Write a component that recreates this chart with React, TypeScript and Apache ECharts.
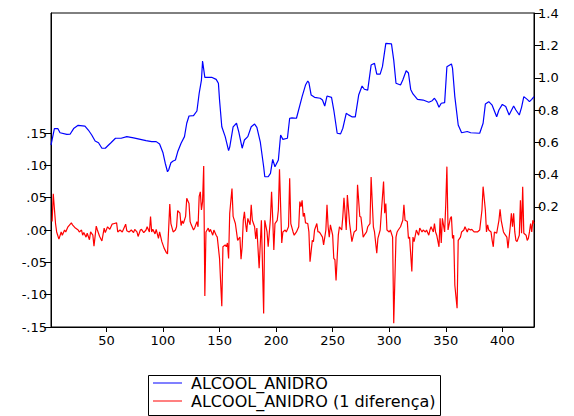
import React, { useEffect, useRef } from "react";
import * as echarts from "echarts";

// Tick labels
const xTicks = [50, 100, 150, 200, 250, 300, 350, 400];
const leftTicks = [-0.15, -0.1, -0.05, 0, 0.05, 0.1, 0.15];
const rightTicks = [0.2, 0.4, 0.6, 0.8, 1.0, 1.2, 1.4];

const seriesNames = ["ALCOOL_ANIDRO", "ALCOOL_ANIDRO (1 diferença)"];

// ALCOOL_ANIDRO (right axis): [observation, value]
const alcoolObs = [1,4,7,9,15,18,21,25,31,34,37,40,43,46,49,51,54,58,63,68,74,80,85,90,94,97,100,102,104,105,107,109,111,113,116,119,121,123,127,130,132,134,135,137,143,147,149,150,152,155,158,159,162,165,167,170,172,175,178,181,183,186,189,190,193,195,197,199,202,204,206,210,212,214,218,223,226,228,229,231,234,239,241,243,245,249,251,254,257,259,262,264,267,270,273,276,278,281,284,287,289,292,294,297,302,304,306,310,312,315,317,319,321,325,330,335,338,340,342,344,346,349,351,355,356,358,361,364,369,372,380,383,385,388,391,395,397,400,403,406,410,412,415,417,419,422,424,426,428];
const alcoolVal = [0.583,0.685,0.685,0.659,0.649,0.651,0.685,0.705,0.700,0.676,0.645,0.608,0.597,0.563,0.563,0.577,0.597,0.625,0.625,0.635,0.627,0.618,0.610,0.604,0.604,0.589,0.535,0.470,0.417,0.428,0.473,0.484,0.490,0.541,0.594,0.635,0.718,0.763,0.765,0.794,0.904,0.986,1.104,1.003,1.003,0.990,0.966,0.862,0.696,0.635,0.548,0.570,0.696,0.718,0.665,0.563,0.614,0.635,0.696,0.713,0.693,0.603,0.448,0.386,0.386,0.407,0.494,0.448,0.490,0.645,0.618,0.625,0.749,0.751,0.749,0.883,0.955,0.980,0.970,0.893,0.879,0.873,0.862,0.825,0.887,0.879,0.800,0.656,0.652,0.687,0.780,0.770,0.758,0.758,0.893,0.949,0.929,0.924,1.079,1.090,1.023,1.023,1.069,1.214,1.210,1.110,0.966,0.955,0.986,1.044,1.030,0.928,0.900,0.866,0.862,0.848,0.858,0.873,0.852,0.817,0.842,0.846,1.069,1.086,1.058,0.883,0.707,0.659,0.667,0.659,0.656,0.718,0.837,0.852,0.830,0.758,0.800,0.835,0.822,0.769,0.825,0.800,0.769,0.817,0.883,0.866,0.852,0.866,0.883];

// ALCOOL_ANIDRO (1 diferença) (left axis): [observation, value]
const difObs = [2,3,5,6,8,10,11,13,14,16,19,20,22,25,26,28,29,30,32,33,35,36,38,39,41,42,44,46,48,49,51,53,55,57,59,60,62,64,67,68,70,72,74,75,77,78,80,81,83,85,86,88,89,90,91,93,94,96,97,99,101,103,104,106,107,109,111,112,113,115,116,117,118,120,121,123,124,125,127,128,130,131,132,133,134,135,136,137,138,140,141,142,144,145,147,148,150,151,152,153,155,156,157,158,159,161,162,164,165,166,168,169,170,171,172,173,174,175,177,178,179,181,182,183,185,187,189,190,192,193,195,196,197,198,199,201,202,203,205,206,208,209,211,212,213,215,216,218,220,221,222,223,224,225,226,228,229,230,232,233,234,236,237,238,239,241,242,244,245,246,247,248,250,251,252,253,255,256,258,259,260,262,263,265,267,269,271,272,274,275,277,278,280,281,283,284,286,287,289,290,292,293,295,296,297,298,300,301,303,304,306,307,308,310,312,313,314,316,317,318,320,321,322,324,326,327,329,330,332,333,335,336,337,339,340,341,342,344,345,346,347,349,350,351,352,354,355,356,357,358,360,361,363,364,366,367,369,370,372,373,375,378,380,382,383,385,386,387,388,390,391,392,393,395,397,398,399,401,402,404,405,407,408,409,410,411,412,413,415,416,417,418,419,421,422,423,424,425,426,427,428];
const difVal = [0.013,0.056,0.010,-0.003,-0.014,-0.003,-0.008,0.000,-0.003,0.005,0.011,0.008,0.004,0.000,-0.003,0.000,-0.008,-0.004,-0.011,-0.005,-0.015,-0.003,-0.008,-0.025,0.006,0.000,-0.010,-0.017,0.003,-0.004,0.005,0.001,0.009,0.010,0.011,-0.003,0.000,-0.003,0.009,-0.001,-0.003,0.000,-0.004,0.001,-0.003,-0.010,0.000,0.001,-0.004,0.000,0.005,-0.003,0.021,-0.003,0.001,-0.006,0.001,-0.013,-0.003,-0.018,-0.028,-0.035,-0.037,0.040,0.010,-0.003,0.000,0.005,0.030,0.026,0.007,0.014,0.010,0.021,0.049,0.041,0.013,0.008,0.000,0.003,0.013,0.005,0.052,0.059,0.031,0.044,0.099,-0.102,-0.003,0.003,-0.003,0.001,-0.008,0.000,-0.008,-0.011,-0.044,-0.082,-0.118,-0.026,-0.023,-0.026,-0.020,-0.044,0.026,0.064,0.021,0.010,-0.003,-0.016,-0.011,-0.045,-0.026,0.015,0.028,0.010,-0.003,0.018,0.008,0.039,0.015,0.005,-0.014,0.003,-0.059,0.015,-0.129,0.015,-0.003,-0.026,0.018,0.059,0.018,-0.031,0.010,0.015,0.031,0.094,-0.020,-0.003,0.000,-0.003,0.005,0.080,0.010,-0.003,-0.008,-0.003,0.005,0.044,0.036,0.046,0.021,0.026,0.011,0.010,-0.003,-0.049,-0.016,-0.018,0.000,0.010,-0.003,-0.003,-0.005,-0.011,-0.023,0.000,0.039,0.005,-0.011,0.008,-0.008,-0.044,-0.046,-0.078,-0.008,0.005,0.000,0.021,0.050,0.000,0.054,0.010,-0.018,-0.003,0.000,0.070,0.021,0.020,-0.011,-0.008,-0.003,0.005,0.010,0.082,0.005,-0.003,-0.036,-0.013,0.000,0.026,0.075,0.026,0.041,0.000,-0.003,0.000,-0.011,-0.144,-0.011,-0.003,0.000,0.005,0.015,0.039,0.015,0.013,-0.013,-0.011,-0.064,-0.011,-0.018,0.000,-0.008,0.003,-0.003,0.000,-0.003,0.000,-0.008,0.000,0.005,-0.003,0.010,-0.003,-0.008,-0.026,0.018,-0.020,0.018,-0.003,0.040,0.098,0.000,0.018,0.021,-0.013,-0.008,-0.085,-0.121,-0.016,-0.011,-0.003,0.000,0.005,-0.003,0.002,0.000,0.001,-0.003,-0.003,0.000,0.031,0.067,0.031,-0.003,0.008,0.000,-0.003,-0.016,-0.026,-0.003,-0.005,0.015,0.032,0.015,-0.003,-0.006,-0.011,-0.028,0.005,0.026,0.005,0.026,-0.003,-0.016,-0.018,-0.008,0.046,-0.005,0.067,-0.005,-0.008,-0.016,-0.013,-0.003,0.010,-0.003,0.015,0.010];

const FONT = "DejaVu Sans";

function fmtLeft(v: number): string {
  const a = Math.abs(v).toFixed(2).replace(/^0/, "");
  return (v < -1e-9 ? "-" : "") + a;
}

export default function App() {
  const ref = useRef<HTMLDivElement>(null);
  useEffect(() => {
    if (!ref.current) return;
    const chart = echarts.init(ref.current, null, { renderer: "svg" });
    const blue = alcoolObs.map((o, i) => [o, alcoolVal[i]]);
    const red = difObs.map((o, i) => [o, difVal[i]]);
    chart.setOption({
      animation: false,
      backgroundColor: "#ffffff",
      grid: {
        left: 51,
        right: 40,
        top: 13,
        bottom: 89,
        show: true,
        borderColor: "#000",
        borderWidth: 1,
        backgroundColor: "transparent",
      },
      xAxis: {
        type: "value",
        min: 1,
        max: 428,
        axisLine: { show: true, onZero: false, lineStyle: { color: "#000", width: 1 } },
        axisTick: { show: true, length: 5, lineStyle: { color: "#000" }, customValues: xTicks },
        axisLabel: {
          customValues: xTicks,
          color: "#000",
          fontFamily: FONT,
          fontSize: 13,
          margin: 7,
        },
        splitLine: { show: false },
      },
      yAxis: [
        {
          type: "value",
          position: "left",
          min: -0.15,
          max: 0.3356,
          axisLine: { show: true, onZero: false, lineStyle: { color: "#000" } },
          axisTick: { show: true, length: 7, lineStyle: { color: "#000" }, customValues: leftTicks },
          axisLabel: {
            customValues: leftTicks,
            formatter: (v: number) => fmtLeft(v),
            color: "#000",
            fontFamily: FONT,
            fontSize: 13,
            margin: 4,
          },
          splitLine: { show: false },
        },
        {
          type: "value",
          position: "right",
          min: -0.546,
          max: 1.402,
          axisLine: { show: true, onZero: false, lineStyle: { color: "#000" } },
          axisTick: { show: true, length: 7, lineStyle: { color: "#000" }, customValues: rightTicks },
          axisLabel: {
            customValues: rightTicks,
            formatter: (v: number) => v.toFixed(1),
            color: "#000",
            fontFamily: FONT,
            fontSize: 13,
            margin: 4,
          },
          splitLine: { show: false },
        },
      ],
      legend: {
        orient: "vertical",
        left: 153,
        top: 375,
        itemWidth: 29,
        itemHeight: 1,
        itemGap: 2,
        icon: "rect",
        padding: 0,
        textStyle: { color: "#000", fontFamily: FONT, fontSize: 16, padding: [0, 0, 0, 4] },
        data: seriesNames,
      },
      graphic: [
        {
          type: "rect",
          left: 146,
          top: 373,
          shape: { x: 0, y: 0, width: 292, height: 40 },
          style: { fill: "none", stroke: "#000", lineWidth: 1 },
          silent: true,
        },
      ],
      series: [
        {
          name: seriesNames[0],
          type: "line",
          yAxisIndex: 1,
          data: blue,
          symbol: "none",
          lineStyle: { color: "#0000ff", width: 1.2 },
          itemStyle: { color: "#0000ff" },
        },
        {
          name: seriesNames[1],
          type: "line",
          yAxisIndex: 0,
          data: red,
          symbol: "none",
          lineStyle: { color: "#ff0000", width: 1.2 },
          itemStyle: { color: "#ff0000" },
        },
      ],
    });
    return () => chart.dispose();
  }, []);
  return (
    <div
      ref={ref}
      style={{ position: "fixed", left: 0, top: 0, width: 574, height: 416, background: "#fff" }}
    />
  );
}
